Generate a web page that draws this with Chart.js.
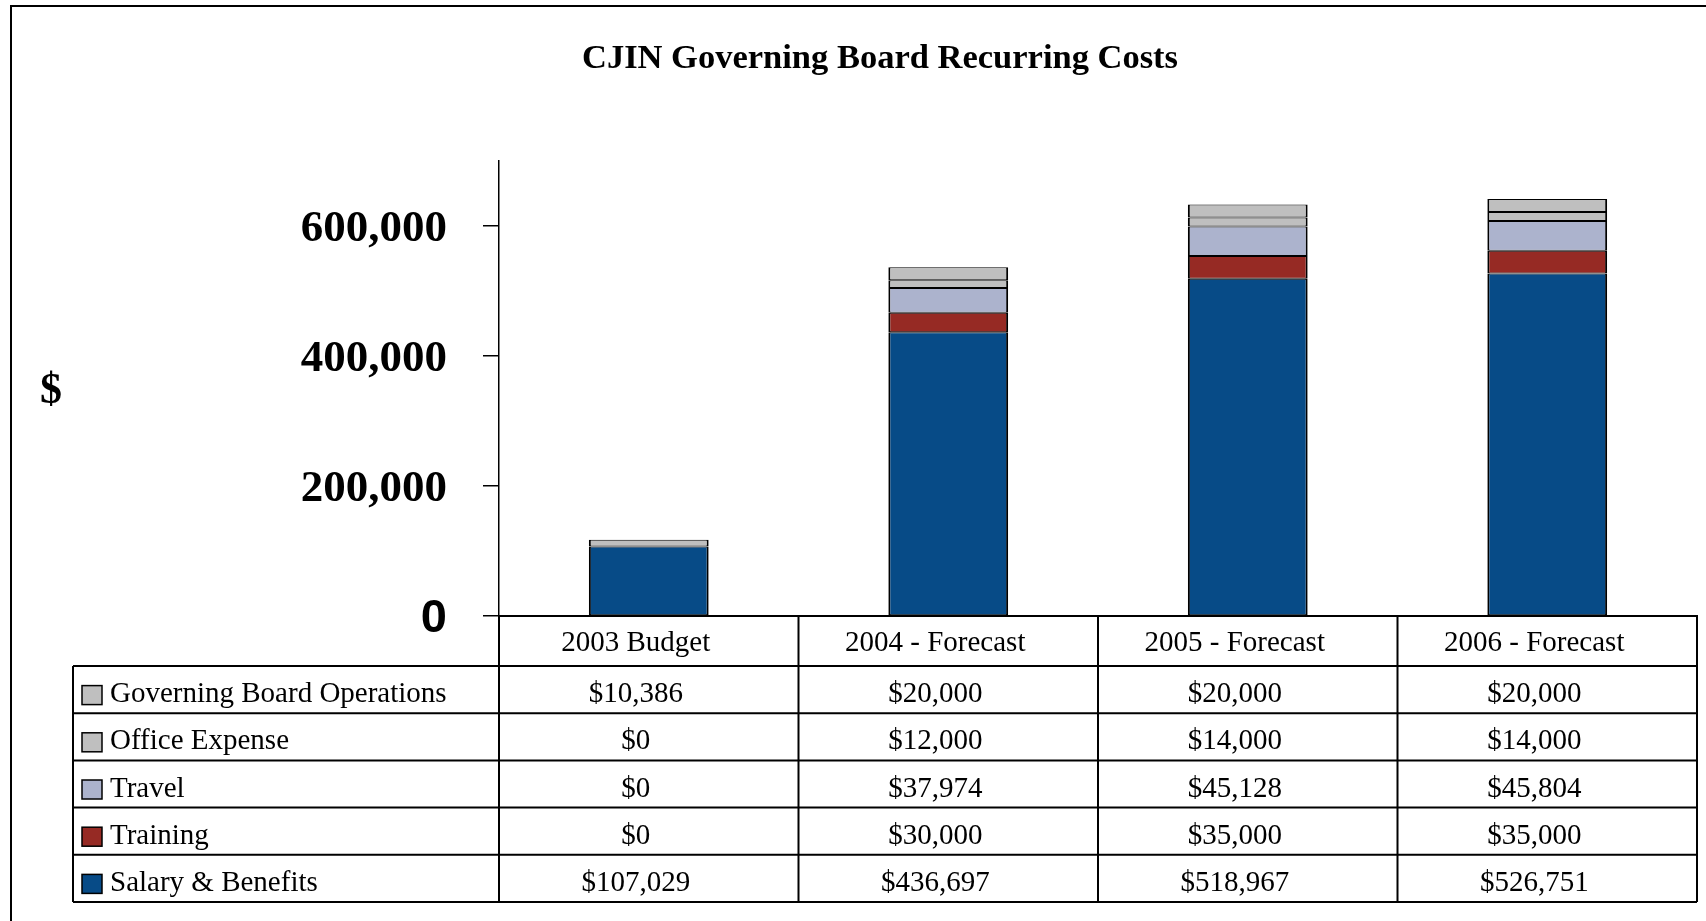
<!DOCTYPE html>
<html>
<head>
<meta charset="utf-8">
<title>CJIN Governing Board Recurring Costs</title>
<script src="https://cdn.jsdelivr.net/npm/chart.js@4/dist/chart.umd.min.js"></script>
<style>
  html, body { margin: 0; padding: 0; background: #fff; overflow: hidden; }
  #wrap { position: relative; width: 1706px; height: 921px; }
</style>
</head>
<body>
<div id="wrap"><canvas id="cost_chart" width="1706" height="921"></canvas></div>
<script>
const categories = ['2003 Budget', '2004 - Forecast', '2005 - Forecast', '2006 - Forecast'];

// stacked bottom to top
const salary_benefits = [107029, 436697, 518967, 526751];
const training = [0, 30000, 35000, 35000];
const travel = [0, 37974, 45128, 45804];
const office_expense = [0, 12000, 14000, 14000];
const board_operations = [10386, 20000, 20000, 20000];

const series_names = ['Salary & Benefits', 'Training', 'Travel', 'Office Expense', 'Governing Board Operations'];
const series_colors = ['#074b87', '#962a24', '#acb3cd', '#bfbfbf', '#bfbfbf'];

const y_ticks = [0, 200000, 400000, 600000];
const y_max = 700000;

const serif = "'Liberation Serif', 'Times New Roman', serif";
const sans = "'Liberation Sans', Arial, sans-serif";

// table text sits a bit left of the column centre in the original
const text_shift = -13;

Chart.defaults.font.family = serif;
Chart.defaults.color = '#000';

function money(v) {
  return '$' + v.toLocaleString('en-US');
}

// frame, "$" label and the data table under the axis
const cost_table_plugin = {
  id: 'cost_table',
  beforeDraw(chart) {
    const ctx = chart.ctx;
    ctx.save();
    ctx.strokeStyle = '#000';
    ctx.lineWidth = 2;
    ctx.beginPath();
    ctx.moveTo(11, 921);
    ctx.lineTo(11, 6);
    ctx.lineTo(1706, 6);
    ctx.stroke();
    ctx.restore();
  },
  afterDraw(chart) {
    const ctx = chart.ctx;
    const area = chart.chartArea;
    const xs = chart.scales.x;
    const col_w = (xs.right - xs.left) / categories.length;
    const head_top = area.bottom;
    const head_bottom = xs.bottom;
    const row_h = 47.2;
    const table_left = 73;
    const datasets = chart.data.datasets.slice().reverse();
    const table_bottom = head_bottom + row_h * datasets.length;

    ctx.save();

    // y axis title
    ctx.font = 'bold 44px ' + serif;
    ctx.fillStyle = '#000';
    ctx.textAlign = 'center';
    ctx.textBaseline = 'middle';
    ctx.fillText('$', 51, (area.top + area.bottom) / 2 + 3);

    // grid of the table
    ctx.strokeStyle = '#000';
    ctx.lineWidth = 2;
    ctx.beginPath();
    for (let i = 0; i <= datasets.length; i++) {
      const y = head_bottom + i * row_h;
      ctx.moveTo(table_left, y);
      ctx.lineTo(xs.right, y);
    }
    ctx.moveTo(table_left, head_bottom);
    ctx.lineTo(table_left, table_bottom);
    for (let i = 0; i <= categories.length; i++) {
      const x = xs.left + i * col_w;
      ctx.moveTo(x, head_top);
      ctx.lineTo(x, table_bottom);
    }
    ctx.stroke();

    // rows
    ctx.font = '29px ' + serif;
    datasets.forEach((ds, r) => {
      const cy = head_bottom + r * row_h + row_h / 2 + 5;
      ctx.fillStyle = ds.backgroundColor;
      ctx.fillRect(82, cy - 9, 20, 19);
      ctx.lineWidth = 1.5;
      ctx.strokeRect(82, cy - 9, 20, 19);
      ctx.fillStyle = '#000';
      ctx.textAlign = 'left';
      ctx.fillText(ds.label, 110, cy);
      ctx.textAlign = 'center';
      ds.data.forEach((v, j) => {
        ctx.fillText(money(v), xs.getPixelForValue(j) + text_shift, cy);
      });
    });

    ctx.restore();
  }
};

const series_data = [salary_benefits, training, travel, office_expense, board_operations];

const cost_chart = new Chart(
  document.querySelector('#cost_chart'),
  {
    type: 'bar',
    data: {
      labels: categories,
      datasets: series_data.map((values, i) => ({
        label: series_names[i],
        data: values,
        backgroundColor: series_colors[i],
        borderColor: '#000',
        borderWidth: { top: 1, bottom: 1, left: 2, right: 2 },
        borderSkipped: false,
        categoryPercentage: 1,
        barPercentage: 0.4
      }))
    },
    options: {
      responsive: false,
      animation: false,
      layout: {
        padding: { left: 63, right: 9, top: 0, bottom: 255 }
      },
      scales: {
        x: {
          stacked: true,
          offset: true,
          grid: { display: false, drawTicks: false },
          border: { display: true, color: '#000', width: 2 },
          ticks: {
            color: '#000',
            padding: 10,
            labelOffset: text_shift,
            maxRotation: 0,
            font: { family: serif, size: 29 }
          },
          afterFit(scale) {
            scale.height = 50;
            scale.paddingLeft = 0;
            scale.paddingRight = 0;
          }
        },
        y: {
          stacked: true,
          min: 0,
          max: y_max,
          grid: {
            display: true,
            drawOnChartArea: false,
            drawTicks: true,
            tickLength: 16,
            color: '#000',
            lineWidth: 1.5
          },
          border: { display: true, color: '#000', width: 1.5 },
          ticks: {
            color: '#000',
            padding: 36,
            labelOffset: 3,
            font: (c) => (c.tick && c.tick.value === 0)
              ? { family: sans, size: 47, weight: 'bold' }
              : { family: serif, size: 45, weight: 'bold' },
            callback: (v) => v.toLocaleString('en-US')
          },
          afterBuildTicks(scale) {
            scale.ticks = y_ticks.map(v => ({ value: v }));
          },
          afterFit(scale) {
            scale.width = 436;
            scale.paddingTop = 0;
            scale.paddingBottom = 0;
          }
        }
      },
      plugins: {
        legend: { display: false },
        tooltip: { enabled: false },
        title: {
          display: true,
          text: 'CJIN Governing Board Recurring Costs',
          color: '#000',
          font: { family: serif, size: 34.5, weight: 'bold', lineHeight: 1.2 },
          padding: { top: 38, bottom: 81.6 }
        }
      }
    },
    plugins: [cost_table_plugin]
  }
);
</script>
</body>
</html>
